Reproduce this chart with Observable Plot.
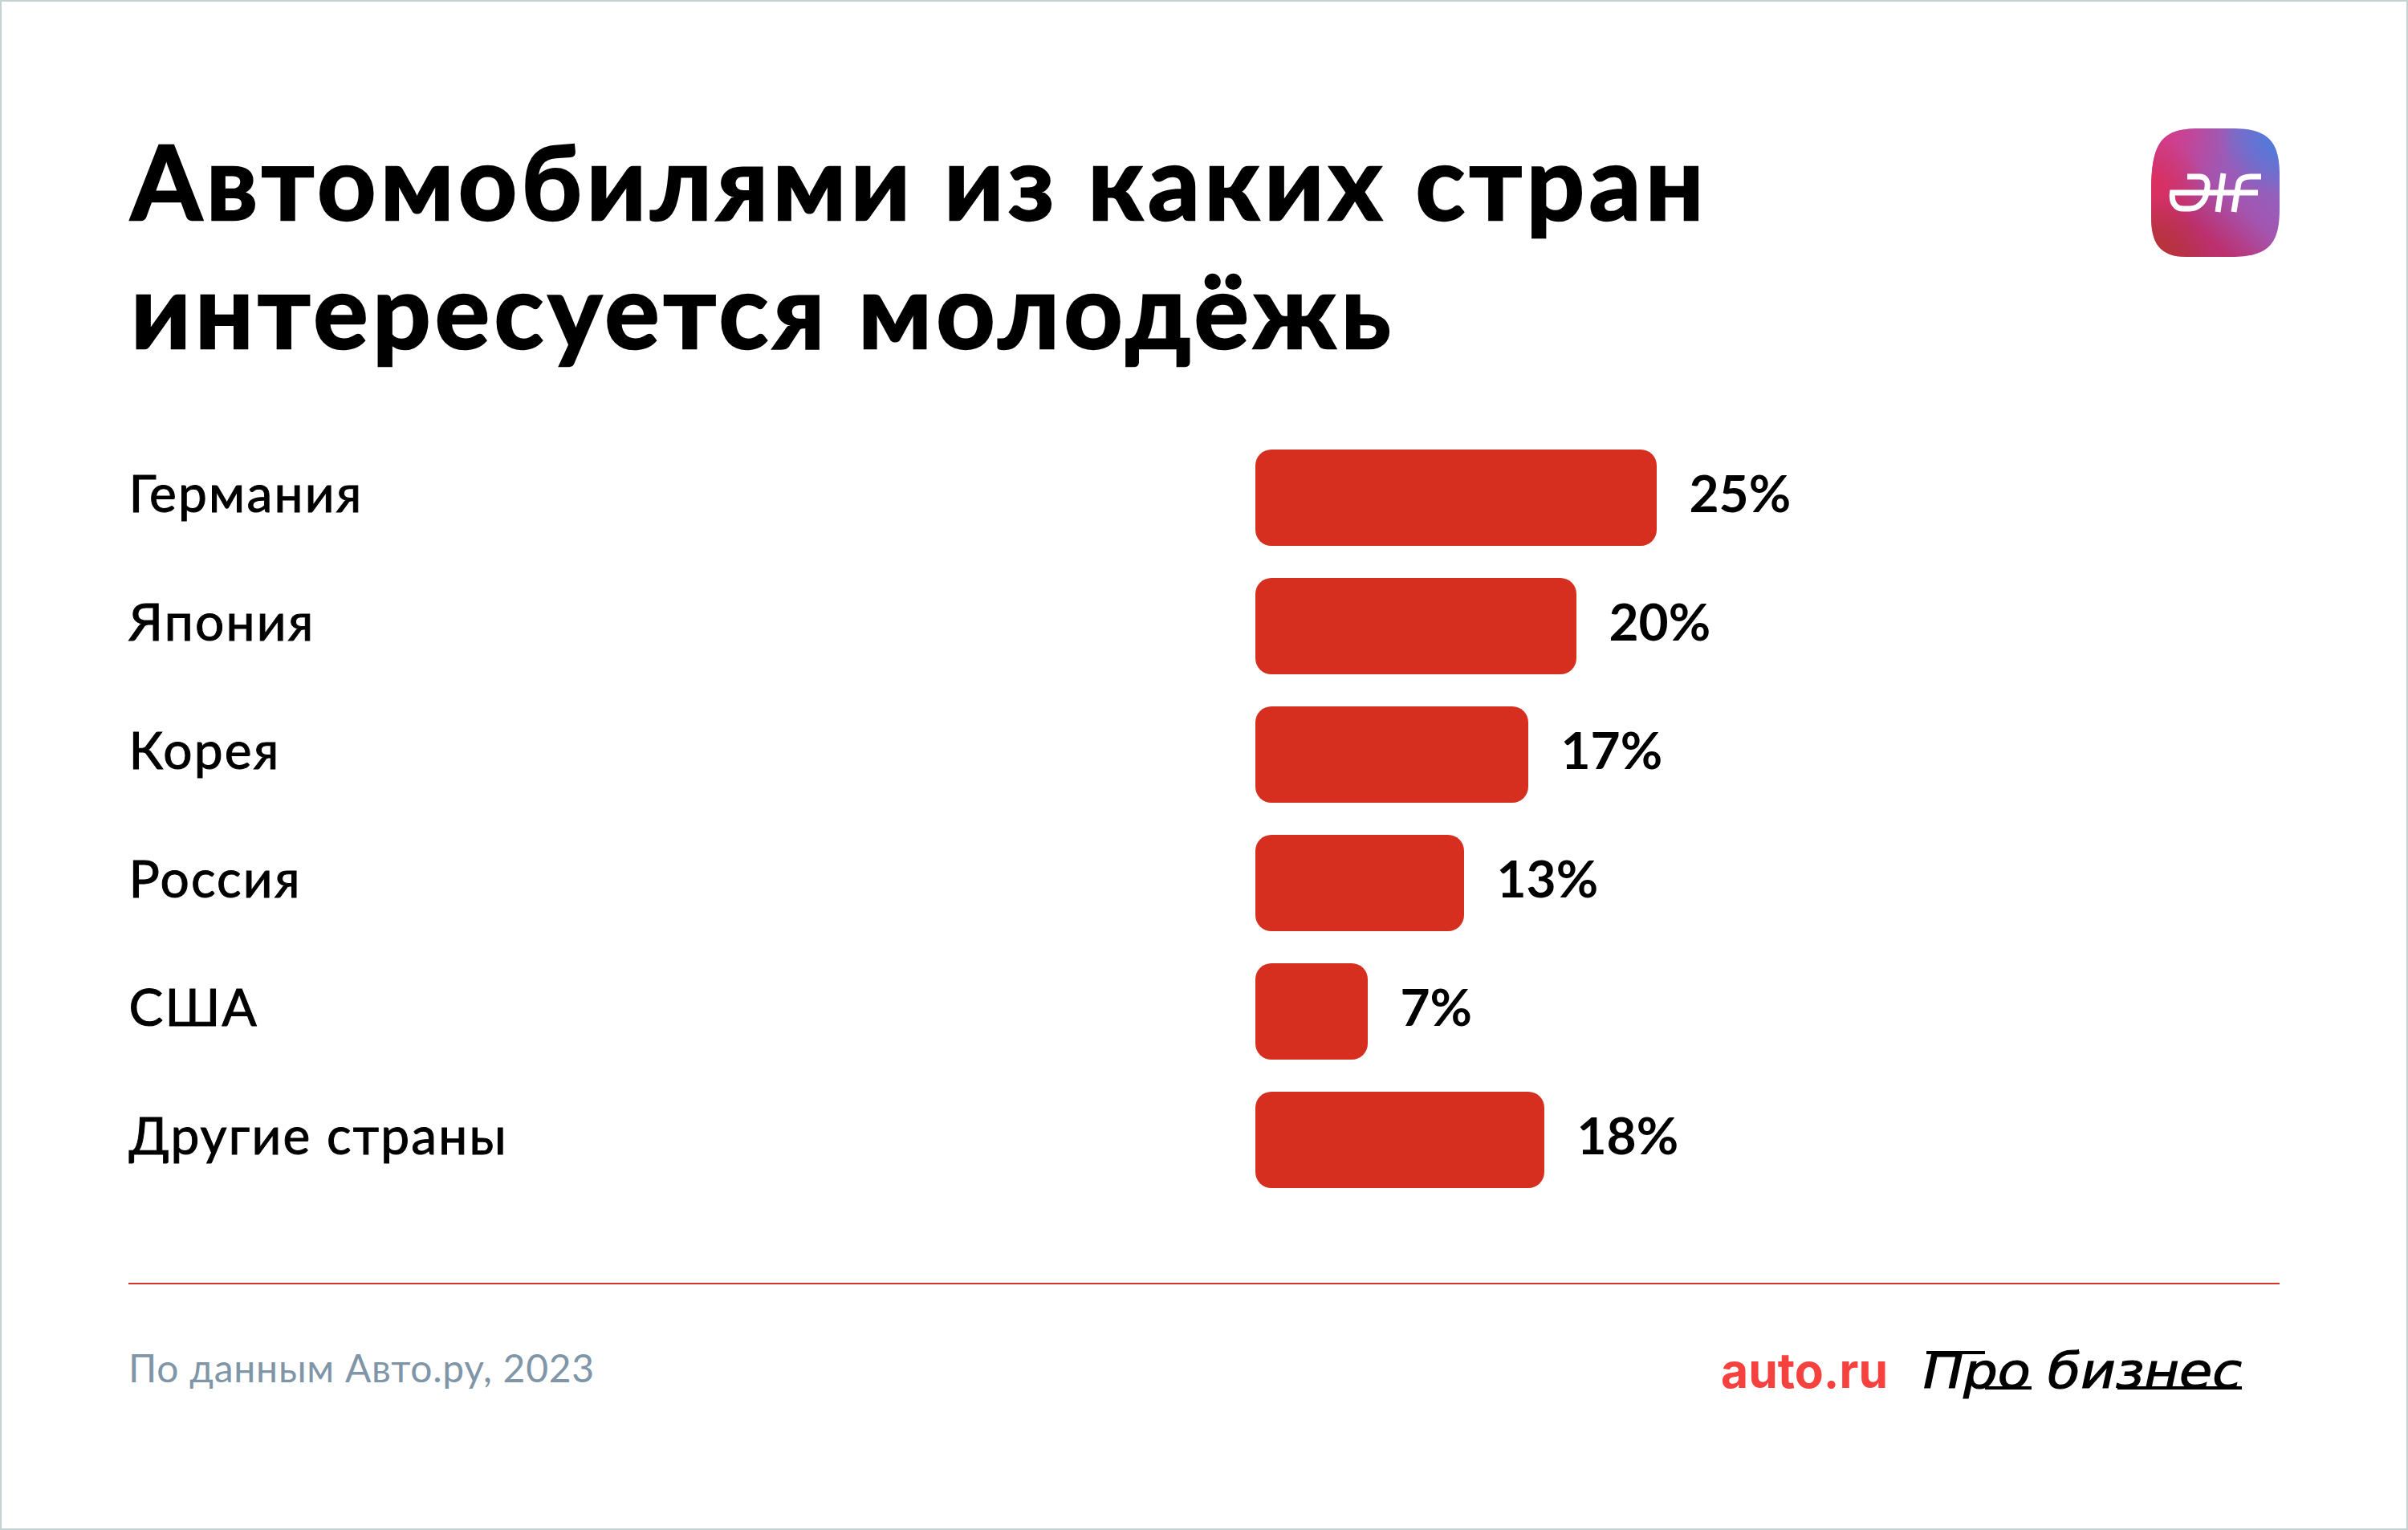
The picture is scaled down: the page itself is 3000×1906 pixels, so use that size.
<!DOCTYPE html>
<html lang="ru">
<head>
<meta charset="utf-8">
<script src="https://cdn.jsdelivr.net/npm/d3@7"></script>
<script src="https://cdn.jsdelivr.net/npm/@observablehq/plot@0.6"></script>
<style>
html,body{margin:0;padding:0;background:#fff}
#page{position:relative;width:3000px;height:1906px;box-sizing:border-box;overflow:hidden;background:#fff;font-family:Lato,"Noto Sans",sans-serif;color:#000}
#frame{position:absolute;left:0;top:0;width:3000px;height:1906px;box-sizing:border-box;border:2px solid #c4d2d2;pointer-events:none}
.t{position:absolute;white-space:nowrap;line-height:1}
#title1,#title2{left:163px;font-size:128px;font-weight:700;letter-spacing:5.3px;-webkit-text-stroke:2.5px #000}
#title1{top:160.5px}
#title2{top:320.5px}
#chart{position:absolute;left:0;top:540px}
#rule{position:absolute;left:160px;top:1598px;width:2680px;height:2px;background:#d5342a}
#source{left:160px;top:1680px;font-size:48px;letter-spacing:.75px;color:#7f95a8}
#logo{position:absolute;left:2680px;top:160px;width:160px;height:160px}
#brands{position:absolute;left:2100px;top:1660px}
#chart g[aria-label="y-axis tick label"] text{stroke:#000;stroke-width:1px;letter-spacing:2.2px}
</style>
</head>
<body>
<div id="page">
  <div id="title1" class="t">Автомобилями из каких стран</div>
  <div id="title2" class="t">интересуется молодёжь</div>
  <svg id="logo" viewBox="0 0 160 160" aria-label="logo">
    <defs>
      <clipPath id="sq"><path d="M0,80 C0,18 12,0 60,0 H100 C148,0 160,18 160,60 V100 C160,142 148,160 100,160 H44 C10,160 0,142 0,110 Z"/></clipPath>
      <linearGradient id="g0" x1="0" y1="1" x2="1" y2="0"><stop offset="0" stop-color="#b52e45"/><stop offset=".3" stop-color="#bc3070"/><stop offset=".55" stop-color="#a455b0"/><stop offset="1" stop-color="#7a70d0"/></linearGradient>
      <radialGradient id="g1" cx="1" cy=".08" r=".45"><stop offset="0" stop-color="#4a7cdc"/><stop offset="1" stop-color="#4a7cdc" stop-opacity="0"/></radialGradient>
      <radialGradient id="g2" cx="0" cy=".45" r=".42"><stop offset="0" stop-color="#dd3060"/><stop offset="1" stop-color="#dd3060" stop-opacity="0"/></radialGradient>
      <radialGradient id="g3" cx="0" cy="1" r=".45"><stop offset="0" stop-color="#b83535"/><stop offset="1" stop-color="#b83535" stop-opacity="0"/></radialGradient>
      <radialGradient id="g4" cx=".1" cy="0" r=".55"><stop offset="0" stop-color="#d83a88"/><stop offset="1" stop-color="#d83a88" stop-opacity="0"/></radialGradient>
    </defs>
    <g clip-path="url(#sq)">
      <rect width="160" height="160" fill="url(#g0)"/>
      <rect width="160" height="160" fill="url(#g4)"/>
      <rect width="160" height="160" fill="url(#g2)"/>
      <rect width="160" height="160" fill="url(#g3)"/>
      <rect width="160" height="160" fill="url(#g1)"/>
    </g>
    <g fill="none" stroke="#fff" stroke-width="7">
      <path d="M45,60 H60 C68,60 71,66 70,73 L69,80 C67,92 58,100 48,100 H40 C30,100 25,92 26.5,80 H133"/>
      <path d="M83,104 L90,56"/>
      <path d="M103,104 L109,68 C111,62 117,60 124,60 H137"/>
    </g>
  </svg>
  <div id="chart"></div>
  <div id="rule"></div>
  <div id="source" class="t">По данным Авто.ру, 2023</div>
  <svg id="brands" width="720" height="110">
    <text x="44" y="69" font-family="Inter" font-weight="700" font-size="60" fill="#f6423f" textLength="208" lengthAdjust="spacingAndGlyphs">auto.ru</text>
    <text x="296" y="69" font-family="DejaVu Sans" font-style="oblique" font-size="60" stroke="#000" stroke-width="1.2" textLength="397" lengthAdjust="spacingAndGlyphs">Про бизнес</text>
    <g stroke="#000" stroke-width="4" fill="none">
      <path d="M300,25 H373"/>
      <path d="M373,69 H431"/>
      <path d="M538,69 H693"/>
    </g>
  </svg>
  <div id="frame"></div>
</div>
<script>
const countries = ["Германия", "Япония", "Корея", "Россия", "США", "Другие страны"];
const shares = [25, 20, 17, 13, 7, 18];
const labels = ["25%", "20%", "17%", "13%", "7%", "18%"];
const rows = countries.map((country, i) => ({country, share: shares[i], label: labels[i]}));

const chart = Plot.plot({
  width: 3000,
  height: 960,
  marginTop: 0, marginBottom: 0, marginLeft: 1564, marginRight: 0,
  style: {background: "transparent", fontFamily: "Lato, 'Noto Sans', sans-serif", overflow: "visible"},
  x: {domain: [0, 25], range: [1564, 2064], axis: null},
  y: {domain: countries, range: [0, 960], paddingInner: 0.25, paddingOuter: 0.125, align: 0.5, label: null},
  marks: [
    Plot.barX(rows, {x: "share", y: "country", fill: "#d62e1f", rx: 20, ry: 20}),
    Plot.axisY({anchor: "left", tickSize: 0, tickPadding: 1404, textAnchor: "start", fontSize: 64, dy: -3, fill: "#000", label: null}),
    Plot.text(rows, {x: "share", y: "country", text: "label", textAnchor: "start", dx: 40, dy: -3, fontSize: 64, fontWeight: 700, fill: "#000"})
  ]
});
document.getElementById("chart").appendChild(chart);
</script>
</body>
</html>
